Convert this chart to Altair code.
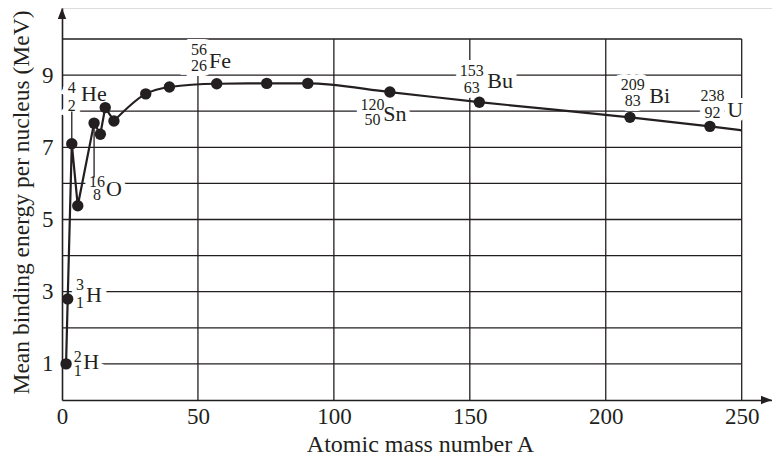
import altair as alt
import pandas as pd

# ---------------- data ----------------
A_pts = [1.5, 2.1, 3.6, 5.8, 11.8, 14.1, 15.9, 19.1, 30.8, 39.5, 56.9, 75.3, 90.4, 120.6, 153.5, 208.9, 238.3]
E_pts = [1.0, 2.8, 7.1, 5.38, 7.67, 7.36, 8.1, 7.73, 8.48, 8.67, 8.76, 8.77, 8.77, 8.53, 8.25, 7.83, 7.58]
N_LINEAR = 8            # first points joined by straight segments
CURVE_END_A = 250       # smooth curve continues to the edge
CURVE_END_E = 7.47

x_ticks = [0, 50, 100, 150, 200, 250]
y_ticks = [1, 3, 5, 7, 9]
h_grid = [1, 2, 3, 4, 5, 6, 7, 8, 9, 10]
v_grid = [50, 100, 150, 200, 250]

# nuclide labels
lab_sym = ["H", "H", "He", "O", "Fe", "Sn", "Bu", "Bi", "U"]
lab_mass = ["2", "3", "4", "16", "56", "120", "153", "209", "238"]
lab_z = ["1", "1", "2", "8", "26", "50", "63", "83", "92"]
lab_nx = [5.77, 6.62, 3.57, 12.87, 50.39, 114.2, 150.69, 209.91, 239.26]
lab_sx = [7.83, 8.83, 6.99, 16.18, 54.07, 118.18, 156.43, 216.01, 244.70]
lab_sy = [1.047, 2.909, 8.490, 5.834, 9.404, 7.931, 8.826, 8.429, 8.042]
lab_my = [1.191, 3.194, 8.643, 6.047, 9.704, 8.180, 9.102, 8.734, 8.410]
lab_zy = [0.792, 2.687, 8.133, 5.687, 9.241, 7.745, 8.643, 8.271, 7.950]

# leader lines from points to labels (He, O)
lead_x = [3.6, 11.8]
lead_y1 = [7.1, 7.67]
lead_y2 = [7.99, 6.16]

# ---------------- layout ----------------
W, H = 710, 392
X_MAX = W / 2.7188
Y_MAX = H / 36.1
INK = "#231f20"
FONT = "Liberation Serif"
NUM_SIZE = 16
SYM_SIZE = 22

xs = alt.Scale(domain=[0, X_MAX], nice=False, zero=False)
ys = alt.Scale(domain=[0, Y_MAX], nice=False, zero=False)

pts = pd.DataFrame({"A": A_pts, "E": E_pts})
lin = pts.iloc[:N_LINEAR]
crv = pd.concat([pts.iloc[N_LINEAR - 1:], pd.DataFrame({"A": [CURVE_END_A], "E": [CURVE_END_E]})],
                ignore_index=True)

hg = pd.DataFrame({"v": h_grid})
vg = pd.DataFrame({"v": v_grid})

nums = pd.DataFrame({
    "x": lab_nx + lab_nx,
    "y": lab_my + lab_zy,
    "t": lab_mass + lab_z,
})
syms = pd.DataFrame({"x": lab_sx, "y": lab_sy, "t": lab_sym})
leads = pd.DataFrame({"x": lead_x, "y1": lead_y1, "y2": lead_y2})

x_axis = alt.Axis(values=x_ticks, grid=False, ticks=False, tickSize=0, labelFlush=False,
                  labelFont=FONT, labelFontSize=23, labelColor=INK, labelPadding=5,
                  domainColor=INK, domainWidth=1.6,
                  title="Atomic mass number A", titleFont=FONT, titleFontSize=24,
                  titleFontWeight="normal", titleColor=INK, titleBaseline="alphabetic",
                  titleY=51, titleX=358)
y_axis = alt.Axis(values=y_ticks, grid=False, ticks=False, tickSize=0,
                  labelFont=FONT, labelFontSize=23, labelColor=INK, labelPadding=9,
                  domainColor=INK, domainWidth=1.6,
                  title="Mean binding energy per nucleus (MeV)", titleFont=FONT, titleFontSize=23.5,
                  titleFontWeight="normal", titleColor=INK, titleBaseline="alphabetic",
                  titleX=-34, titleY=194)

hgrid = alt.Chart(hg).mark_rule(color=INK, strokeWidth=1.3).encode(
    y=alt.Y("v:Q", scale=ys, axis=y_axis),
    x=alt.datum(0, scale=xs, axis=x_axis),
    x2=alt.datum(250),
)
vgrid = alt.Chart(vg).mark_rule(color=INK, strokeWidth=1.3).encode(
    x=alt.X("v:Q"), y=alt.datum(0), y2=alt.datum(10),
)

halo_n = alt.Chart(nums).mark_text(font=FONT, fontSize=NUM_SIZE, align="center", baseline="middle",
                                   stroke="white", strokeWidth=10, fill="white").encode(
    x="x:Q", y="y:Q", text="t:N")
halo_s = alt.Chart(syms).mark_text(font=FONT, fontSize=SYM_SIZE, align="left", baseline="middle",
                                   stroke="white", strokeWidth=10, fill="white").encode(
    x="x:Q", y="y:Q", text="t:N")

leader = alt.Chart(leads).mark_rule(color=INK, strokeWidth=1.3).encode(
    x="x:Q", y="y1:Q", y2="y2:Q")

line_a = alt.Chart(lin).mark_line(color=INK, strokeWidth=2.2).encode(
    x="A:Q", y="E:Q", order=alt.Order("A:Q"))
line_b = alt.Chart(crv).mark_line(color=INK, strokeWidth=2.2, interpolate="monotone").encode(
    x="A:Q", y="E:Q", order=alt.Order("A:Q"))
points = alt.Chart(pts).mark_point(filled=True, color=INK, opacity=1, size=130).encode(
    x="A:Q", y="E:Q")

txt_n = alt.Chart(nums).mark_text(font=FONT, fontSize=NUM_SIZE, align="center", baseline="middle",
                                  color=INK).encode(x="x:Q", y="y:Q", text="t:N")
txt_s = alt.Chart(syms).mark_text(font=FONT, fontSize=SYM_SIZE, align="left", baseline="middle",
                                  color=INK).encode(x="x:Q", y="y:Q", text="t:N")

dummy = pd.DataFrame({"k": [0]})
arrow_up = alt.Chart(dummy).mark_point(
    shape="M0,0L-0.6,1.571L0.6,1.571Z", filled=True, color=INK, opacity=1, size=196
).encode(x=alt.datum(0), y=alt.datum(Y_MAX))
arrow_right = alt.Chart(dummy).mark_point(
    shape="M0,0L-1.571,-0.6L-1.571,0.6Z", filled=True, color=INK, opacity=1, size=196
).encode(x=alt.datum(X_MAX), y=alt.datum(0))

chart = alt.layer(
    hgrid, vgrid, halo_n, halo_s, leader, line_a, line_b, points, txt_n, txt_s,
    arrow_up, arrow_right,
).properties(
    width=W, height=H,
    autosize=alt.AutoSizeParams(type="none"),
    padding={"left": 54, "top": 0, "right": 0, "bottom": 55},
).configure_view(stroke=None).configure(background="white")

chart.save("out.html", embed_options={"renderer": "svg", "actions": False})
